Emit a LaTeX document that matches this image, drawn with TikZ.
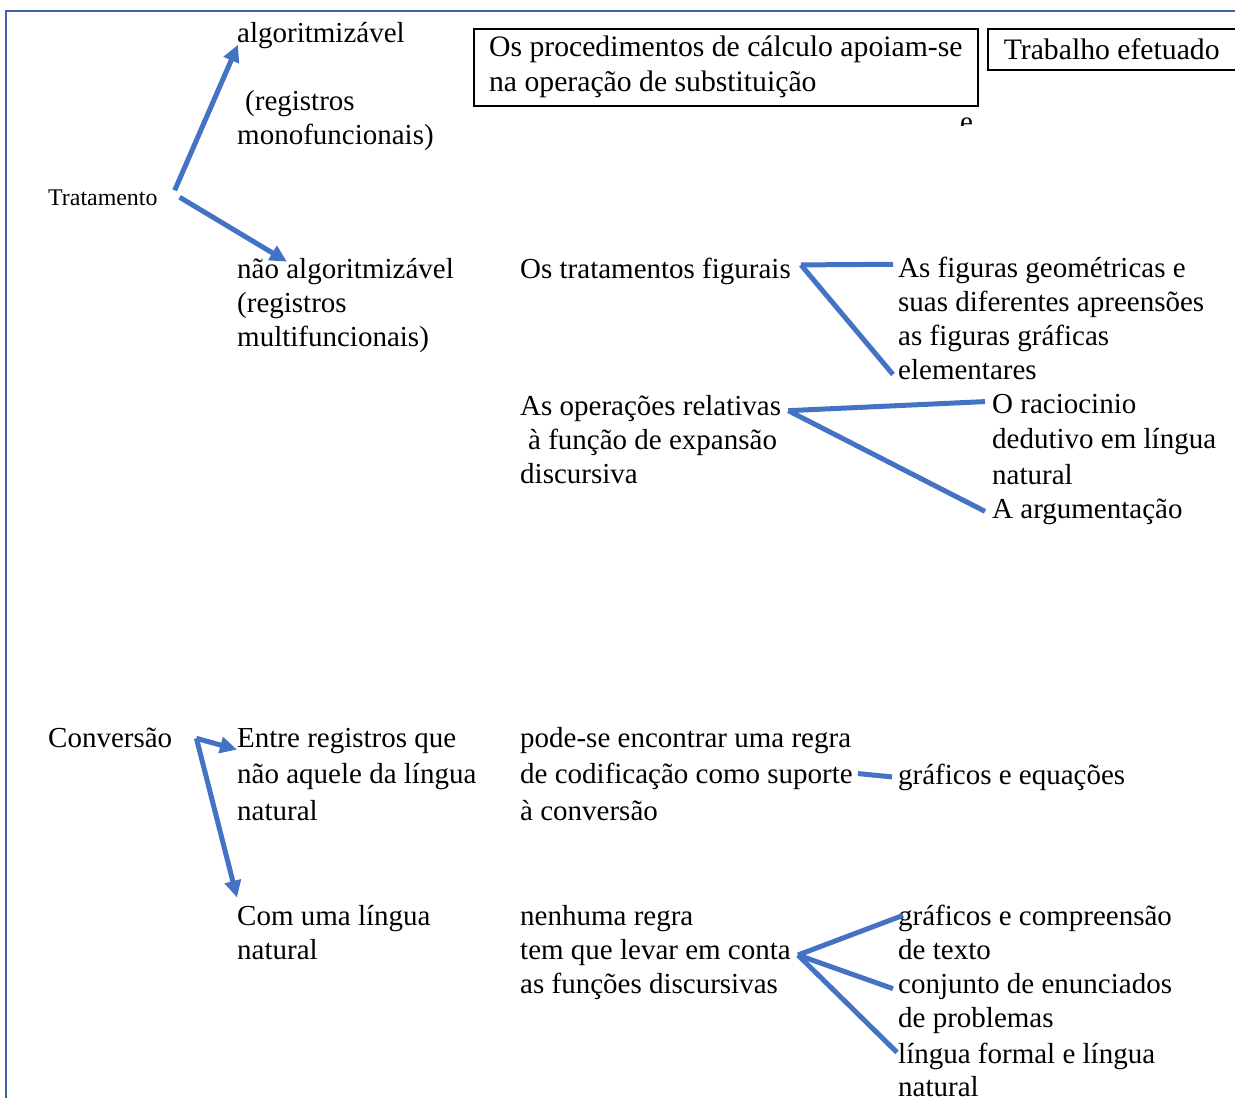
\documentclass[tikz,border=0pt]{standalone}
\usepackage{fontspec}
\setmainfont{Liberation Serif}
\usepackage{tikz}
\usetikzlibrary{arrows.meta,calc,positioning}
\definecolor{frameblue}{HTML}{3C63A8}
\definecolor{linkblue}{HTML}{4472C4}

\begin{document}
\begin{tikzpicture}[x=1pt,y=-1pt,
  txt/.style={inner sep=0pt,anchor=base west,align=left,font=\fontsize{29}{34}\selectfont},
  txtwide/.style={txt,font=\fontsize{29}{36.5}\selectfont},
  boxed/.style={draw,line width=1.6pt,inner sep=0pt,inner xsep=15pt,anchor=north west,align=left,font=\fontsize{29.7}{35}\selectfont},
  link/.style={draw=linkblue,line width=5pt},
  arr/.style={link,-{Triangle[length=17pt,width=16pt]}}]
\useasboundingbox (0,0) rectangle (1235,1098);
\draw[frameblue,line width=2.5pt] (1235,11) -- (6,11) -- (6,1098);

\node[txt] (algo) at (237,144) {algoritmizável\\[34pt]\hspace{8pt}(registros\\monofuncionais)};
\node[txt,font=\fontsize{23.9}{28}\selectfont] (trat) at (48,205) {Tratamento};
\node[txt] (nalg) at (237,346) {não algoritmizável\\(registros\\multifuncionais)};
\node[boxed,minimum width=504pt,minimum height=77pt] (calc) at (473,28) {Os procedimentos de cálculo apoiam-se\\na operação de substituição};
\node[boxed,inner xsep=16pt,minimum height=41pt] (trab) at (987,28) {Trabalho efetuado};
\begin{scope}
\clip (950,110) rectangle (985,125);
\node[txt] (e) at (960,131) {e};
\end{scope}

\node[txt] (tfig) at (520,278) {Os tratamentos figurais};
\node[txt,font=\fontsize{29}{33.7}\selectfont] (geo) at (898,379) {As figuras geométricas e\\suas diferentes apreensões\\as figuras gráficas\\elementares};
\node[txt] (oper) at (520,483) {As operações relativas\\\hspace{8pt}à função de expansão\\discursiva};
\node[txt,font=\fontsize{29}{35.5}\selectfont] (racio) at (992,484) {O raciocinio\\dedutivo em língua\\natural};
\node[txt] (argu) at (992,518) {A argumentação};

\node[txt] (conv) at (48,747) {Conversão};
\node[txtwide] (entre) at (237,820) {Entre registros que\\não aquele da língua\\natural};
\node[txtwide] (regra) at (520,820) {pode-se encontrar uma regra\\de codificação como suporte\\à conversão};
\node[txt] (grafeq) at (898,784) {gráficos e equações};
\node[txt] (lingua) at (237,959) {Com uma língua\\natural};
\node[txt] (nenhum) at (520,993) {nenhuma regra\\tem que levar em conta\\as funções discursivas};
\node[txt] (gcomp) at (898,959) {gráficos e compreensão\\de texto};
\node[txt] (enunc) at (898,1027) {conjunto de enunciados\\de problemas};
\node[txt,font=\fontsize{29}{33}\selectfont] (formal) at (898,1096) {língua formal e língua\\natural};

\coordinate (tj) at ([shift={(17,-7)}]trat.east);
\coordinate (fj) at ([shift={(10,-6)}]tfig.east);
\coordinate (oj) at ([shift={(7,16)}]oper.north east);
\coordinate (cj) at ([shift={(24,1)}]conv.east);
\coordinate (nj) at ([shift={(7,3)}]nenhum.east);

\draw[arr] (tj) -- ([shift={(1,23)}]algo.north west);
\draw[arr] ([shift={(5,7)}]tj) -- ([shift={(50,4)}]nalg.north west);
\draw[link] (fj) -- ([shift={(-5,7)}]geo.north west);
\draw[link] (fj) -- ([shift={(-5,-5)}]geo.south west);
\draw[link] (oj) -- ([shift={(-7,8)}]racio.north west);
\draw[link] (oj) -- ([shift={(-7,0)}]argu.west);
\draw[arr] (cj) -- ([shift={(0,22)}]entre.north west);
\draw[arr] (cj) -- ([shift={(0,-7)}]lingua.north west);
\draw[link] ([shift={(5,0)}]regra.east) -- ([shift={(-6,0)}]grafeq.west);
\draw[link] (nj) -- ([shift={(5,11)}]gcomp.north west);
\draw[link] (nj) -- ([shift={(-5,16)}]enunc.north west);
\draw[link] (nj) -- ([shift={(-1,10)}]formal.north west);
\end{tikzpicture}
\end{document}
